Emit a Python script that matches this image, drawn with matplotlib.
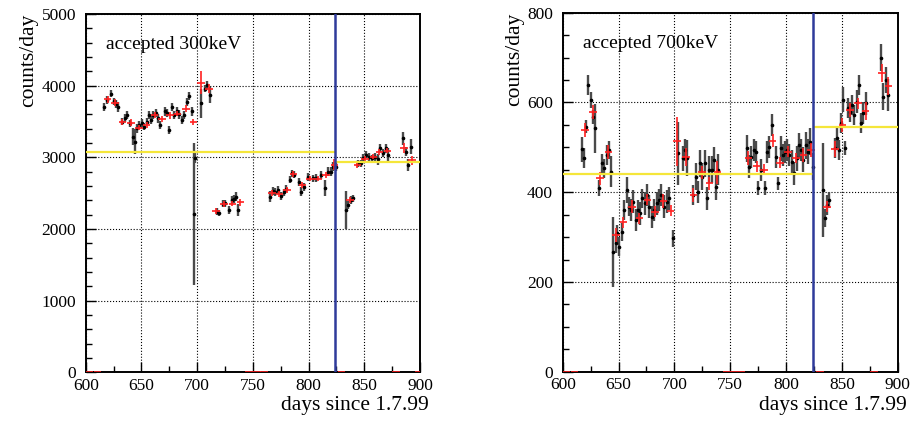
import matplotlib
matplotlib.use('Agg')
import matplotlib.pyplot as plt
from matplotlib.ticker import MultipleLocator

plt.rcParams['font.family'] = ['Liberation Serif', 'DejaVu Serif']

# ---- 300 keV: daily rates (day, counts/day, error) ----
day_300 = [616.7, 619.5, 622.7, 625.1, 627.2, 629.3, 632.9, 635.3, 637.4, 639.8,
           642.7, 644.2, 646.3, 648.1, 650.2, 652.6, 654.7, 656.8, 658.6, 660.7,
           662.8, 664.6, 667.0, 671.2, 672.7, 674.8, 677.2, 679.2, 681.7, 684.0,
           686.1, 688.5, 690.6, 693.0, 695.1, 697.0, 698.1, 703.5, 707.1, 709.2,
           711.5, 717.6, 720.0, 723.0, 725.0, 728.9, 731.0, 733.1, 734.9, 737.0,
           765.4, 767.8, 770.0, 772.6, 775.0, 777.5, 780.0, 783.3, 785.2, 787.2,
           791.4, 793.2, 796.0, 799.3, 804.3, 807.0, 811.2, 814.8, 817.8, 820.2,
           822.2, 824.5, 833.3, 835.1, 837.6, 839.6, 844.7, 847.0, 849.1, 851.7,
           854.0, 857.1, 859.7, 862.0, 864.0, 866.6, 869.0, 871.4, 885.0, 887.5,
           889.6, 891.7]
rate_300 = [3700, 3800, 3890, 3780, 3750, 3700, 3500, 3545, 3590, 3475,
            3290, 3220, 3405, 3450, 3475, 3430, 3500, 3590, 3520, 3590,
            3615, 3545, 3450, 3640, 3615, 3380, 3705, 3590, 3640, 3600,
            3520, 3590, 3775, 3855, 3640, 2205, 2990, 3755, 3960, 4010,
            3870, 2240, 2220, 2350, 2360, 2265, 2405, 2415, 2450, 2265,
            2450, 2530, 2520, 2545, 2460, 2515, 2565, 2685, 2775, 2760,
            2660, 2520, 2590, 2730, 2705, 2710, 2750, 2570, 2800, 2800,
            2870, 2870, 2265, 2335, 2405, 2430, 2915, 2915, 2985, 3035,
            3010, 2985, 3010, 2970, 3125, 3055, 3125, 3035, 3265, 3080,
            2895, 3150]
err_300 = [60, 50, 50, 55, 55, 70, 50, 55, 55, 50,
           115, 175, 60, 55, 55, 55, 55, 55, 55, 60,
           55, 60, 60, 60, 55, 55, 60, 55, 60, 60,
           60, 60, 60, 55, 60, 990, 70, 200, 55, 50,
           110, 50, 45, 50, 50, 50, 55, 55, 60, 80,
           75, 55, 55, 60, 50, 50, 50, 50, 55, 50,
           55, 60, 55, 55, 55, 55, 55, 110, 60, 60,
           60, 60, 260, 60, 55, 50, 50, 50, 55, 50,
           55, 50, 55, 70, 55, 55, 60, 90, 90, 60,
           80, 110]

# ---- 300 keV: weekly averages ----
wk_day_300 = [603.5, 610.5, 619.7, 626.3, 632.9, 640.4, 647.6, 654.7, 661.9, 668.5,
              675.7, 682.2, 690.0, 696.6, 703.5, 710.6, 716.9, 724.1, 731.6, 738.7,
              746.5, 753.5, 760.0, 767.2, 773.7, 780.6, 786.3, 794.4, 801.3, 808.2,
              815.6, 823.1, 829.5, 837.2, 843.8, 850.6, 858.1, 863.5, 870.7, 878.5,
              885.7, 892.8, 899.0]
wk_rate_300 = [0, 0, 3810, 3760, 3495, 3485, 3415, 3450, 3590, 3535,
               3585, 3610, 3680, 3495, 4040, 3960, 2255, 2345, 2355, 2375,
               0, 0, 0, 2500, 2490, 2545, 2765, 2615, 2700, 2700,
               2755, 2900, 0, 2405, 2895, 2975, 3010, 3070, 3095, 0,
               3135, 2960, 0]
wk_err_300 = [0, 0, 50, 50, 40, 45, 40, 40, 40, 45,
              45, 40, 45, 40, 160, 60, 40, 40, 40, 50,
              0, 0, 0, 40, 40, 40, 40, 40, 35, 35,
              40, 70, 0, 40, 40, 40, 40, 40, 40, 0,
              70, 60, 0]
mean_300 = [3070, 2930]

# ---- 700 keV: daily rates ----
day_700 = [617.0, 619.0, 620.9, 622.9, 625.0, 626.9, 629.2, 632.8, 635.0, 637.3,
           639.4, 641.2, 643.3, 645.3, 647.5, 649.0, 650.7, 653.1, 655.2, 657.3,
           659.4, 661.2, 663.3, 665.4, 667.4, 669.2, 671.3, 673.4, 675.2, 677.6,
           679.7, 681.8, 684.2, 686.0, 688.3, 690.7, 693.1, 694.9, 699.0, 703.5,
           707.5, 709.5, 711.6, 717.0, 719.1, 720.9, 723.0, 725.0, 727.2, 729.2,
           731.3, 733.4, 735.2, 737.3, 739.3, 764.8, 766.8, 768.9, 771.0, 773.1,
           775.2, 777.3, 781.2, 783.2, 785.0, 787.2, 791.0, 793.1, 795.2, 797.0,
           799.1, 801.1, 802.9, 805.1, 807.1, 809.5, 811.3, 813.4, 815.5, 817.6,
           819.4, 821.5, 824.4, 832.8, 834.9, 837.0, 838.7, 843.9, 845.4, 847.4,
           849.2, 851.3, 853.1, 855.2, 857.3, 859.1, 861.1, 863.3, 865.3, 867.4,
           869.2, 871.3, 885.0, 887.0, 889.5, 891.6]
rate_700 = [496, 476, 546, 639, 605, 568, 542, 409, 464, 453,
            483, 494, 446, 267, 286, 308, 279, 312, 360, 405,
            368, 360, 379, 338, 360, 353, 386, 375, 394, 368,
            345, 360, 375, 383, 394, 368, 379, 386, 297, 487,
            476, 494, 476, 394, 435, 401, 464, 435, 464, 386,
            450, 450, 472, 412, 450, 498, 457, 479, 494, 490,
            409, 450, 409, 490, 501, 550, 479, 420, 498, 483,
            490, 494, 483, 468, 442, 476, 505, 494, 472, 505,
            490, 512, 457, 405, 342, 372, 383, 498, 520, 494,
            554, 606, 498, 587, 579, 594, 572, 602, 639, 554,
            576, 598, 700, 613, 650, 617]
err_700 = [28, 22, 15, 22, 18, 15, 55, 18, 22, 22,
           22, 20, 35, 78, 22, 20, 22, 20, 22, 30,
           22, 25, 25, 25, 22, 25, 22, 25, 25, 25,
           25, 25, 25, 25, 25, 25, 25, 25, 18, 70,
           28, 25, 40, 22, 30, 25, 30, 30, 30, 25,
           30, 30, 28, 30, 35, 30, 25, 25, 25, 25,
           15, 25, 15, 25, 25, 25, 25, 15, 28, 25,
           25, 25, 25, 25, 25, 28, 28, 25, 28, 30,
           28, 30, 30, 105, 20, 22, 18, 22, 25, 22,
           22, 28, 15, 22, 22, 22, 22, 25, 22, 22,
           25, 25, 30, 30, 30, 35]

# ---- 700 keV: weekly averages ----
wk_day_700 = [603.5, 610.5, 620.0, 626.9, 633.4, 640.9, 647.5, 654.3, 661.8, 668.6,
              675.8, 682.7, 690.1, 696.7, 702.6, 710.4, 717.0, 724.5, 731.3, 738.5,
              746.5, 753.5, 760.0, 766.2, 773.7, 780.3, 788.0, 794.6, 802.0, 808.7,
              815.5, 822.1, 830.5, 836.5, 843.9, 850.4, 857.3, 864.7, 871.3, 879.0,
              885.7, 891.6]
wk_rate_700 = [0, 0, 539, 579, 431, 490, 305, 333, 368, 342,
               383, 357, 380, 359, 513, 478, 394, 444, 420, 444,
               0, 0, 0, 476, 458, 450, 515, 466, 490, 476,
               483, 494, 0, 368, 496, 550, 583, 598, 582, 0,
               666, 637]
wk_err_700 = [0, 0, 15, 15, 15, 15, 15, 12, 15, 12,
              12, 12, 15, 12, 55, 20, 15, 15, 15, 25,
              0, 0, 0, 15, 12, 12, 15, 12, 12, 12,
              15, 15, 0, 12, 18, 15, 15, 12, 20, 0,
              20, 20]
mean_700 = [441, 545]

CHANGE_DAY = 823.7

fig = plt.figure(figsize=(9.11, 4.25), dpi=100)
ax1 = fig.add_axes([0.0941, 0.124, 0.367, 0.843])
ax2 = fig.add_axes([0.6177, 0.1254, 0.3677, 0.8447])


def draw_panel(ax, days, rate, err, wdays, wrate, werr, means, ymax, ymajor, yminor, label):
    ax.set_xlim(600, 900)
    ax.set_ylim(0, ymax)
    ax.grid(True, color='black', linestyle=':', linewidth=0.8)
    ax.set_axisbelow(True)

    ax.errorbar(days, rate, yerr=err, fmt='o', ms=1.6, mfc='black', mec='black',
                ecolor='#4a4a4a', elinewidth=1.7, capsize=0, zorder=3)
    ax.errorbar(wdays, wrate, yerr=werr, xerr=3.4, fmt='none', ecolor='#ff2020',
                elinewidth=1.2, capsize=0, zorder=4)

    ax.hlines(means[0], 600, CHANGE_DAY, color='#f5e63a', linewidth=1.6, zorder=5)
    ax.hlines(means[1], CHANGE_DAY, 900, color='#f5e63a', linewidth=1.6, zorder=5)
    ax.axvline(CHANGE_DAY, color='#2f3b9a', linewidth=1.8, zorder=6)

    ax.xaxis.set_major_locator(MultipleLocator(50))
    ax.xaxis.set_minor_locator(MultipleLocator(25))
    ax.yaxis.set_major_locator(MultipleLocator(ymajor))
    ax.yaxis.set_minor_locator(MultipleLocator(yminor))
    ax.tick_params(which='both', direction='in', top=False, right=False,
                   labelsize=12.5, width=1)
    ax.tick_params(which='major', length=7)
    ax.tick_params(which='minor', length=4)
    ax.tick_params(axis='y', pad=7)
    ax.tick_params(axis='x', pad=4)
    for sp in ax.spines.values():
        sp.set_linewidth(1.4)

    ax.text(0.06, 0.915, label, transform=ax.transAxes, fontsize=14, va='center')
    ax.set_ylabel('counts/day', fontsize=15.5, loc='top', labelpad=2)
    ax.set_xlabel('days since 1.7.99', fontsize=15.5, loc='right')
    ax.xaxis.set_label_coords(1.027, -0.067, transform=ax.transAxes)
    ax.xaxis.label.set_verticalalignment('top')


draw_panel(ax1, day_300, rate_300, err_300, wk_day_300, wk_rate_300, wk_err_300,
           mean_300, 5000, 1000, 200, 'accepted 300keV')
draw_panel(ax2, day_700, rate_700, err_700, wk_day_700, wk_rate_700, wk_err_700,
           mean_700, 800, 200, 50, 'accepted 700keV')

fig.savefig('out.png', dpi=100)
